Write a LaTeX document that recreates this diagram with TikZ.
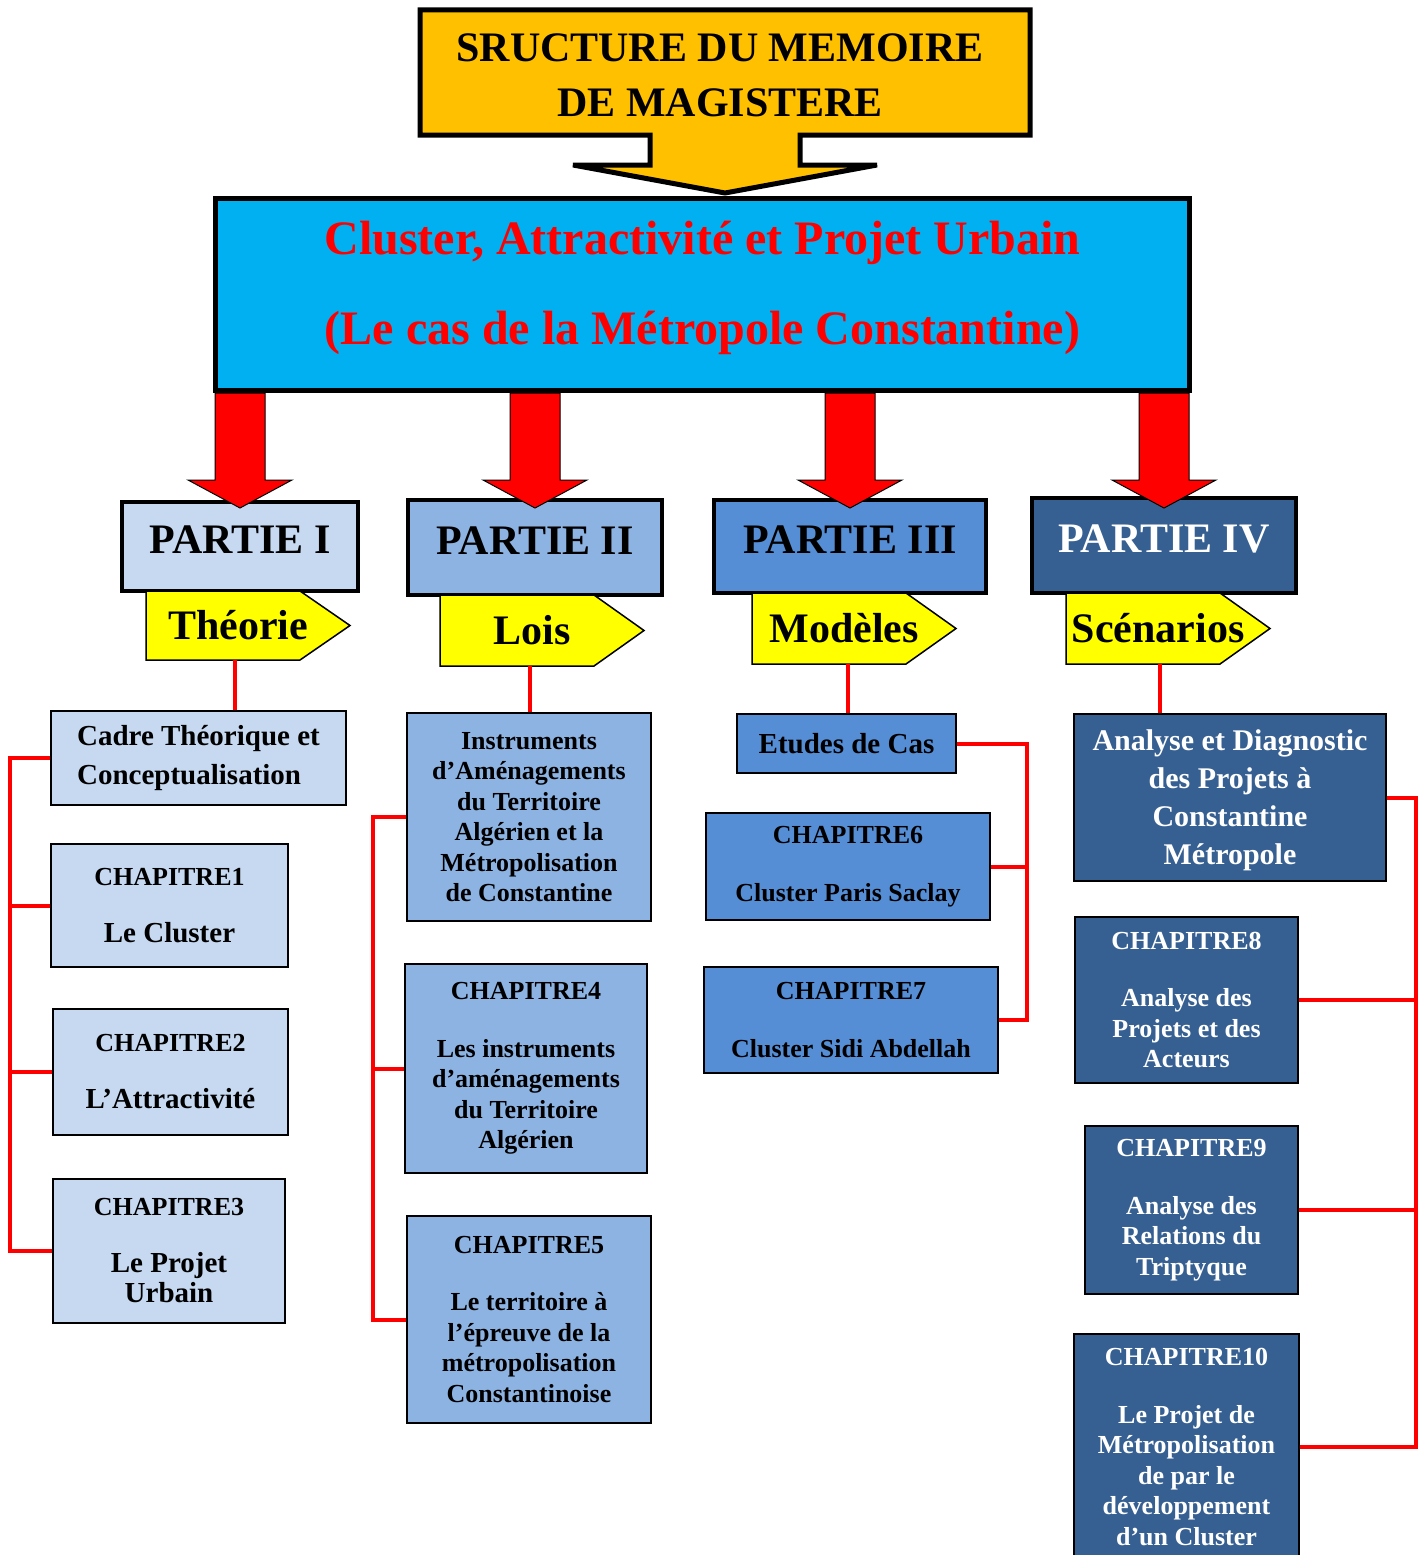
\documentclass[tikz,border=0pt]{standalone}
\usepackage{fontspec}
\setmainfont{Liberation Serif}

\definecolor{titleorange}{HTML}{FFC000}
\definecolor{maincyan}{HTML}{00B0F0}
\definecolor{blueA}{HTML}{C6D9F1}
\definecolor{blueB}{HTML}{8DB3E2}
\definecolor{blueC}{HTML}{558ED5}
\definecolor{blueD}{HTML}{376092}
\definecolor{tagyellow}{HTML}{FFFF00}

% block arrow from the main box down to a part box
\newcommand{\partarrow}[1]{%
  \draw[red_arrow] (#1.north |- main.south) ++(-25,0) -- ++(0,87) -- ++(-27,0)
    -- ++(52,28) -- ++(52,-28) -- ++(-27,0) -- ++(0,-87) -- cycle;}
% yellow tag: name, left x, top y, bottom y, text
\newcommand{\parttag}[5]{%
  \draw[tag_shape] (#2,#3) -- (#2+154,#3) -- (#2+204,{(#3+#4)/2}) -- (#2+154,#4) -- (#2,#4) -- cycle;
  \node[tag_text, minimum height={(#4-#3)*1pt}] (#1) at (#2+92,{(#3+#4)/2}) {#5};}
\newcommand{\chapline}[1]{{\fontsize{26}{30.5}\selectfont #1}}

\begin{document}
\begin{tikzpicture}[x=1pt, y=-1pt,
    font=\bfseries,
    title_box/.style={draw, line width=5pt, fill=titleorange, line join=miter},
    main_box/.style={draw, line width=5pt, fill=maincyan, text=red, anchor=north west, align=center, text depth=24pt, font=\bfseries\fontsize{48}{90}\selectfont},
    partie/.style={draw, line width=4pt, anchor=north west, text depth=14pt, font=\bfseries\fontsize{42}{50}\selectfont},
    tag_shape/.style={draw, line width=1.5pt, fill=tagyellow, line join=miter},
    tag_text/.style={inner sep=0pt, font=\bfseries\fontsize{42}{50}\selectfont},
    chap_box/.style={draw, line width=2pt, anchor=north west, align=center, font=\bfseries\fontsize{26}{30.5}\selectfont},
    big_chap/.style={chap_box, font=\bfseries\fontsize{29}{30}\selectfont},
    red_arrow/.style={draw=black, line width=1pt, fill=red, line join=miter},
    red_link/.style={draw=red, line width=4pt}
  ]
  \useasboundingbox (0,0) rectangle (1427,1555);

  % title
  \draw[title_box] (420,10) -- (1030,10) -- (1030,135) -- (800,135) -- (800,165) -- (877,165)
    -- (725,193) -- (573,165) -- (650,165) -- (650,135) -- (420,135) -- cycle;
  \node[align=center, font=\bfseries\fontsize{42}{55}\selectfont] (title) at (720,75) {SRUCTURE DU MEMOIRE\\DE MAGISTERE};

  \node[main_box, minimum width=974pt, minimum height=192pt] (main) at (213,196)
    {Cluster, Attractivité et Projet Urbain\\(Le cas de la Métropole Constantine)};

  % parts
  \node[partie, fill=blueA, minimum width=236pt, minimum height=89pt] (p1) at (120,500) {PARTIE I};
  \node[partie, fill=blueB, minimum width=254pt, minimum height=95pt] (p2) at (406,498) {PARTIE II};
  \node[partie, fill=blueC, minimum width=272pt, minimum height=93pt] (p3) at (712,498) {PARTIE III};
  \node[partie, fill=blueD, text=white, minimum width=264pt, minimum height=95pt] (p4) at (1030,496) {PARTIE IV};

  \foreach \p in {p1,p2,p3,p4} {\partarrow{\p}}

  \parttag{t1}{146}{591}{660}{Théorie}
  \parttag{t2}{440}{595}{666}{Lois}
  \parttag{t3}{752}{593}{664}{Modèles}
  \parttag{t4}{1066}{593}{664}{Scénarios}

  % column 1
  \node[big_chap, align=left, font=\bfseries\fontsize{29}{39}\selectfont, fill=blueA, minimum width=295pt, minimum height=94pt] (c1a) at (50,710) {Cadre Théorique et\\Conceptualisation};
  \node[big_chap, fill=blueA, minimum width=237pt, minimum height=123pt] (c1b) at (50,843) {\chapline{CHAPITRE1}\\[27pt]Le Cluster};
  \node[big_chap, fill=blueA, minimum width=235pt, minimum height=126pt] (c1c) at (52,1008) {\chapline{CHAPITRE2}\\[27pt]L’Attractivité};
  \node[big_chap, fill=blueA, minimum width=232pt, minimum height=144pt] (c1d) at (52,1178) {\chapline{CHAPITRE3}\\[27pt]Le Projet\\Urbain};

  % column 2
  \node[chap_box, fill=blueB, minimum width=244pt, minimum height=208pt] (c2a) at (406,712)
    {Instruments\\d’Aménagements\\du Territoire\\Algérien et la\\Métropolisation\\de Constantine};
  \node[chap_box, fill=blueB, minimum width=242pt, minimum height=209pt] (c2b) at (404,963)
    {CHAPITRE4\\[27pt]Les instruments\\d’aménagements\\du Territoire\\Algérien};
  \node[chap_box, fill=blueB, minimum width=244pt, minimum height=207pt] (c2c) at (406,1215)
    {CHAPITRE5\\[27pt]Le territoire à\\l’épreuve de la\\métropolisation\\Constantinoise};

  % column 3
  \node[big_chap, fill=blueC, minimum width=219pt, minimum height=59pt] (c3a) at (736,713) {Etudes de Cas};
  \node[chap_box, fill=blueC, minimum width=284pt, minimum height=107pt] (c3b) at (705,812) {CHAPITRE6\\[27pt]Cluster Paris Saclay};
  \node[chap_box, fill=blueC, minimum width=294pt, minimum height=106pt] (c3c) at (703,966) {CHAPITRE7\\[27pt]Cluster Sidi Abdellah};

  % column 4
  \node[chap_box, fill=blueD, text=white, font=\bfseries\fontsize{30}{38}\selectfont, text depth=0pt, minimum width=312pt, minimum height=167pt] (c4a) at (1073,713)
    {Analyse et Diagnostic\\des Projets à\\Constantine\\Métropole};
  \node[chap_box, fill=blueD, text=white, minimum width=223pt, minimum height=166pt] (c4b) at (1074,916)
    {CHAPITRE8\\[27pt]Analyse des\\Projets et des\\Acteurs};
  \node[chap_box, fill=blueD, text=white, minimum width=213pt, minimum height=168pt] (c4c) at (1084,1125)
    {CHAPITRE9\\[27pt]Analyse des\\Relations du\\Triptyque};
  \node[chap_box, fill=blueD, text=white, minimum width=225pt, minimum height=226pt] (c4d) at (1073,1333)
    {CHAPITRE10\\[27pt]Le Projet de\\Métropolisation\\de par le\\développement\\d’un Cluster};

  % red links
  \draw[red_link] ([xshift=-5pt]p1.south |- t1.south) -- ([xshift=-5pt]p1.south |- c1a.north);
  \draw[red_link] ([xshift=-5pt]p2.south |- t2.south) -- ([xshift=-5pt]p2.south |- c2a.north);
  \draw[red_link] ([xshift=-2pt]p3.south |- t3.south) -- ([xshift=-2pt]p3.south |- c3a.north);
  \draw[red_link] ([xshift=-4pt]p4.south |- t4.south) -- ([xshift=-4pt]p4.south |- c4a.north);

  \coordinate (bar1) at (10,0);
  \coordinate (bar2) at (373,0);
  \coordinate (bar3) at (1027,0);
  \coordinate (bar4) at (1416,0);
  \draw[red_link] (c1a.west) -- (c1a.west -| bar1) -- (c1d.west -| bar1) -- (c1d.west);
  \foreach \n in {c1b,c1c} \draw[red_link] (\n.west) -- (\n.west -| bar1);
  \draw[red_link] (c2a.west) -- (c2a.west -| bar2) -- (c2c.west -| bar2) -- (c2c.west);
  \draw[red_link] (c2b.west) -- (c2b.west -| bar2);
  \draw[red_link] (c3a.east) -- (c3a.east -| bar3) -- (c3c.east -| bar3) -- (c3c.east);
  \draw[red_link] (c3b.east) -- (c3b.east -| bar3);
  \draw[red_link] (c4a.east) -- (c4a.east -| bar4) -- (c4d.east -| bar4) -- (c4d.east);
  \foreach \n in {c4b,c4c} \draw[red_link] (\n.east) -- (\n.east -| bar4);
\end{tikzpicture}
\end{document}
